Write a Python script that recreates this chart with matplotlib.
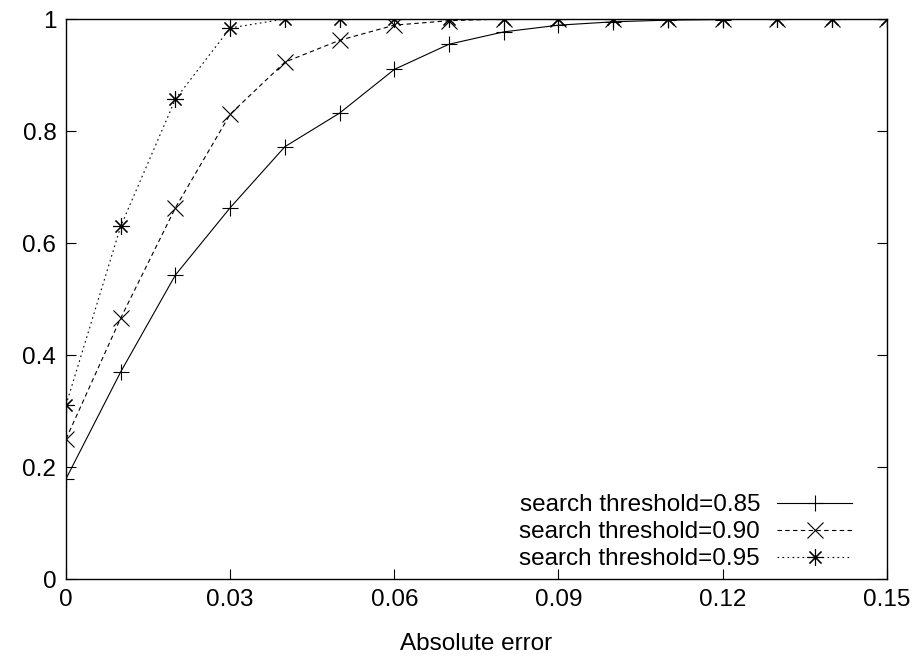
import matplotlib.pyplot as plt

plt.rcParams['font.family'] = ['Liberation Sans', 'DejaVu Sans']

x = [0.00, 0.01, 0.02, 0.03, 0.04, 0.05, 0.06, 0.07, 0.08,
     0.09, 0.10, 0.11, 0.12, 0.13, 0.14, 0.15]
t085 = [0.179, 0.370, 0.543, 0.663, 0.772, 0.832, 0.910, 0.955, 0.977,
        0.989, 0.995, 0.998, 0.999, 1.0, 1.0, 1.0]
t090 = [0.250, 0.466, 0.663, 0.830, 0.923, 0.962, 0.989, 0.997, 1.0,
        1.0, 1.0, 1.0, 1.0, 1.0, 1.0, 1.0]
t095 = [0.311, 0.630, 0.857, 0.984, 1.0, 1.0, 1.0, 1.0, 1.0,
        1.0, 1.0, 1.0, 1.0, 1.0, 1.0, 1.0]

xticks = [0, 0.03, 0.06, 0.09, 0.12, 0.15]
xticklabels = ['0', '0.03', '0.06', '0.09', '0.12', '0.15']
yticks = [0, 0.2, 0.4, 0.6, 0.8, 1.0]
yticklabels = ['0', '0.2', '0.4', '0.6', '0.8', '1']

fs = 17.5

fig = plt.figure(figsize=(9.17, 6.6), dpi=100)
ax = fig.add_axes([0.072, 0.1227, 0.895, 0.8485])

lw = 0.8
ax.plot(x, t085, color='black', lw=lw, marker='+', ms=12, mew=lw,
        label='search threshold=0.85')
ax.plot(x, t090, color='black', lw=lw, ls=(0, (4, 3)), marker='x', ms=11,
        mew=lw, label='search threshold=0.90')
ax.plot(x, t095, color='black', lw=lw, ls=(0, (1.5, 3)), marker=(8, 2, 0),
        ms=12, mew=lw, label='search threshold=0.95')

ax.set_xlim(0, 0.15)
ax.set_ylim(0, 1)
ax.set_xticks(xticks)
ax.set_xticklabels(xticklabels)
ax.set_yticks(yticks)
ax.set_yticklabels(yticklabels)
ax.tick_params(direction='in', length=7, width=0.8, labelsize=fs,
               right=True, top=False, pad=7)
for s in ax.spines.values():
    s.set_linewidth(1.0)
ax.set_xlabel('Absolute error', fontsize=fs, labelpad=16)

ax.legend(loc='lower right', bbox_to_anchor=(0.973, -0.006), frameon=False,
          markerfirst=False, fontsize=fs, handlelength=3.1,
          borderpad=0, labelspacing=0.2, handletextpad=0.7)

plt.savefig('out.png', dpi=100)
